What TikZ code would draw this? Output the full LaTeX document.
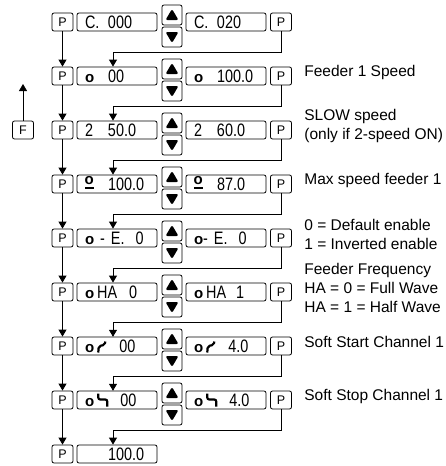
\documentclass[tikz,border=0pt]{standalone}
\usepackage{fontspec}
\setmainfont{Liberation Sans}
\newfontfamily\dispfont[FakeStretch=0.8]{Liberation Sans}
\usetikzlibrary{positioning,arrows.meta,calc}

\newcommand{\bo}{{\rmfamily\fontsize{15}{15}\selectfont\bfseries o}}
\newcommand{\ordo}{\makebox[10pt][l]{\rule[1.5pt]{8.5pt}{2pt}\hspace{-8.8pt}\raisebox{6.5pt}{\bo}}}
\newcommand{\segr}{\tikz[baseline=0pt,x=1pt,y=1pt]\draw[line width=2.2pt] (0.5,0) -- (1,6.5) -- (7,7.5) -- (7.5,11);}
\newcommand{\segs}{\tikz[baseline=0pt,x=1pt,y=1pt]\draw[line width=2.2pt] (0,13) -- (0,7) -- (9,7) -- (9,0);}
\newcommand{\dtext}[2]{\makebox[23pt][l]{#1}#2}

\begin{document}
\begin{tikzpicture}[x=1pt,y=-1pt,line width=0.8pt,
  pkey/.style={draw,rounded corners=2pt,minimum width=21pt,minimum height=18pt,inner sep=0pt,font=\fontsize{12.5}{12.5}\selectfont},
  disp/.style={draw,rounded corners=2pt,text width=64pt,align=left,inner xsep=8pt,inner ysep=2.5pt,text height=13pt,text depth=0pt,font=\dispfont\fontsize{18}{18}\selectfont},
  btn/.style={draw,rounded corners=2pt,minimum size=20pt,inner sep=0pt},
  upbtn/.style={btn,path picture={\fill ([yshift=6pt]path picture bounding box.center) -- ([shift={(-6.5pt,-5pt)}]path picture bounding box.center) -- ([shift={(6.5pt,-5pt)}]path picture bounding box.center) -- cycle;}},
  dnbtn/.style={btn,path picture={\fill ([yshift=-6pt]path picture bounding box.center) -- ([shift={(-6.5pt,5pt)}]path picture bounding box.center) -- ([shift={(6.5pt,5pt)}]path picture bounding box.center) -- cycle;}},
  arr/.style={-{Triangle[width=8pt,length=7pt]}},
  note/.style={anchor=west,align=left,inner xsep=0pt,font=\fontsize{15.5}{19}\selectfont}]
\useasboundingbox (0,0) rectangle (445,466);

% menu rows
\foreach \i/\ls/\lv/\rs/\rv in {1/C./000/C./020, 2/\bo/00/\bo/100.0, 3/2/50.0/2/60.0,
  4/\ordo/100.0/\ordo/87.0, 5/{\bo\ -\ E.\hspace{11pt}0}/{}/{\bo-\ E.\hspace{11pt}0}/{},
  6/{\bo\,HA\hspace{12pt}0}/{}/{\bo\,HA\hspace{10pt}1}/{},
  7/{\bo\,\segr\hspace{13pt}00}/{}/{\bo\,\segr\hspace{13pt}4.0}/{},
  8/{\bo\,\segs\hspace{12pt}00}/{}/{\bo\,\segs\hspace{12pt}4.0}/{}}{
  \pgfmathsetmacro{\ry}{22+54*(\i-1)}
  \node[pkey] (p\i) at (62.5,\ry) {P};
  \node[disp] (l\i) at (117,\ry) {\dtext{\ls}{\lv}};
  \node[upbtn] (u\i) at (172,\ry-7) {};
  \node[dnbtn] (d\i) at (172,\ry+15) {};
  \node[disp] (r\i) at (226,\ry) {\dtext{\rs}{\rv}};
  \node[pkey] (q\i) at (281,\ry) {P};
}
\node[pkey] (p9) at (62.5,454) {P};
\node[disp] (l9) at (117,454) {\dtext{}{100.0}};

% F key
\node[pkey] (f) at (23,130) {F};
\coordinate (ftip) at (23,84);
\draw[arr] (f) -- (ftip);

% connectors
\foreach \i [evaluate=\i as \j using int(\i+1)] in {1,...,8}{
  \draw[arr] (p\i) -- (p\j);
  \draw[arr] (q\i.south) -- ++(0,21) -| ([xshift=-4pt]l\j.north);
}

% notes
\foreach \i/\txt in {2/Feeder 1 Speed, 3/{SLOW speed\\(only if 2-speed ON)},
  4/Max speed feeder 1, 5/{0 = Default enable\\1 = Inverted enable},
  6/{Feeder Frequency\\HA = 0 = Full Wave\\HA = 1 = Half Wave},
  7/Soft Start Channel 1, 8/Soft Stop Channel 1}{
  \pgfmathsetmacro{\ry}{22+54*(\i-1)-4}
  \node[note] (t\i) at (304,\ry) {\txt};
}
\end{tikzpicture}
\end{document}
